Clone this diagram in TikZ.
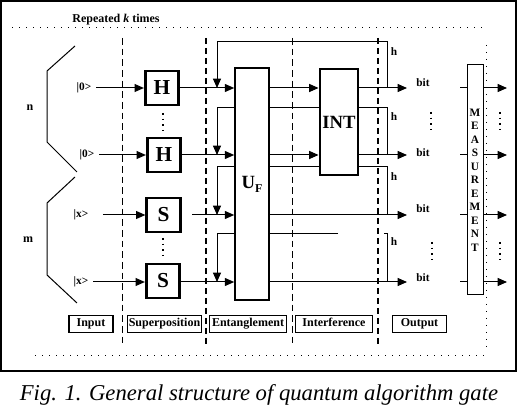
\documentclass[tikz,border=0pt]{standalone}
\usepackage{fontspec}
\setmainfont{Liberation Serif}
\usetikzlibrary{arrows.meta}
\begin{document}
\begin{tikzpicture}[x=0.75pt,y=-0.75pt,line width=0.75pt,
  arr/.style={-{Triangle[length=7pt,width=6pt]}},
  gate/.style={draw,fill=white,line width=2.2pt,minimum width=25pt,minimum height=25.5pt,inner sep=0pt,font=\fontsize{16}{16}\selectfont\bfseries},
  lbl/.style={inner sep=0.5pt,font=\fontsize{8.5}{9}\selectfont\bfseries},
  stage/.style={draw,line width=0.9pt,minimum height=13pt,text height=6.5pt,text depth=2pt,inner sep=0pt,font=\fontsize{9}{10}\selectfont\bfseries},
  thindash/.style={dash pattern=on 5pt off 3pt,line width=0.75pt},
  thickdash/.style={dash pattern=on 4.5pt off 3pt,line width=1.6pt},
  dotline/.style={dash pattern=on 0.75pt off 4.5pt,line width=0.75pt},
  vdots/.style={dash pattern=on 1.2pt off 3pt,line width=1.1pt},
]
\useasboundingbox (0,0) rectangle (518,416);
\draw[line width=1pt] (1,1) rectangle (516,371);

% repeated label and dotted guides
\node[font=\fontsize{9}{10}\selectfont\bfseries,inner sep=0pt] (rep) at (116,20) {Repeated \textit{k} times};
\draw[dotline] (12,28) -- (488,28);
\draw[dotline] (35,356) -- (485,356);
\draw[dotline] (486,45) -- (486,352);

% stage separators
\draw[thindash] (122,38) -- (122,347);
\draw[thickdash] (206,38) -- (206,347);
\draw[thindash] (292,38) -- (292,347);
\draw[thickdash] (378,38) -- (378,347);

% brackets
\draw (75,46) -- (47,71) -- (47,142) -- (77,172);
\draw (75,177) -- (47,203) -- (47,275) -- (77,303);
\node[lbl,font=\fontsize{9}{10}\selectfont\bfseries] (nlab) at (30,108) {n};
\node[lbl,font=\fontsize{9}{10}\selectfont\bfseries] (mlab) at (28,240) {m};

% feedback paths (behind the boxes)
\coordinate (fa1) at (387,88);  \coordinate (fa2) at (387,42);  \coordinate (fa3) at (217,42);  \coordinate (fa4) at (217,88);
\coordinate (fb1) at (387,155); \coordinate (fb2) at (387,108); \coordinate (fb3) at (217,108); \coordinate (fb4) at (217,155);
\coordinate (fc1) at (387,215); \coordinate (fc2) at (387,167); \coordinate (fc3) at (217,167); \coordinate (fc4) at (217,215);
\coordinate (fd0) at (338,234); \coordinate (fd3) at (217,234); \coordinate (fd4) at (217,282);
\coordinate (fe0) at (384,234); \coordinate (fe2) at (387,234); \coordinate (fe1) at (387,282);
\draw[arr] (fa1) -- (fa2) -- (fa3) -- (fa4);
\draw[arr] (fb1) -- (fb2) -- (fb3) -- (fb4);
\draw[arr] (fc1) -- (fc2) -- (fc3) -- (fc4);
\draw (fd0) -- (fd3);
\draw[arr] (fd3) -- (fd4);
\draw (fe0) -- (fe2) -- (fe1);

% gates
\node[gate] (H1) at (162,88) {H};
\node[gate] (H2) at (164,155) {H};
\node[gate] (S1) at (163.5,215) {S};
\node[gate] (S2) at (163,281) {S};
\draw[vdots] (163,113) -- (163,133);
\draw[vdots] (163,238) -- (163,256);

\node[draw,fill=white,line width=1.2pt,minimum width=25.5pt,minimum height=174pt,inner sep=0pt] (UF) at (252,184)
  {\fontsize{14}{14}\selectfont\bfseries U\raisebox{-0.45ex}{\fontsize{9}{9}\selectfont F}};
\node[draw,fill=white,line width=2.2pt,minimum width=28.5pt,minimum height=79.5pt,inner sep=0pt,font=\fontsize{14}{14}\selectfont\bfseries] (INT) at (339,122) {INT};
\node[draw,fill=white,line width=0.75pt,minimum width=12pt,minimum height=172.5pt,inner sep=0pt,align=center,font=\fontsize{8.5}{10.1}\selectfont\bfseries] (MS) at (475,180)
  {M\\E\\A\\S\\U\\R\\E\\M\\E\\N\\T};

% inputs
\node[lbl] (i1) at (84,88) {|0>};
\node[lbl] (i2) at (87,155) {|0>};
\node[lbl] (i3) at (81,215) {|x>};
\node[lbl] (i4) at (81,282) {|x>};
\draw[arr,shorten <=3pt] (i1.east) -- (H1.west);
\draw[arr,shorten <=3pt] (i2.east) -- (H2.west);
\draw[arr,shorten <=10pt] (i3.east) -- (S1.west |- i3);
\draw[arr,shorten <=3pt] (i4.east) -- (S2.west |- i4);

% into U_F
\draw[arr] (H1.east) -- (H1.east -| UF.west);
\draw[arr] (H2.east) -- (H2.east -| UF.west);
\draw[arr,shorten <=8pt] (S1.east) -- (S1.east -| UF.west);
\draw[arr] (S2.east |- i4) -- (UF.west |- i4);

% into INT and outputs
\coordinate (o1) at (407,88);
\coordinate (o2) at (407,155);
\coordinate (o3) at (407,215);
\coordinate (o4) at (407,282);
\draw[arr] (UF.east |- o1) -- (INT.west |- o1);
\draw[arr] (UF.east |- o2) -- (INT.west |- o2);
\draw[arr] (INT.east |- o1) -- (o1);
\draw[arr] (INT.east |- o2) -- (o2);
\draw[arr] (UF.east |- o3) -- (o3);
\draw[arr] (UF.east |- o4) -- (o4);

% labels bit / h
\node[lbl] (b1) at (423,83) {bit};
\node[lbl] (b2) at (423,153) {bit};
\node[lbl] (b3) at (423,209) {bit};
\node[lbl] (b4) at (423,278) {bit};
\node[lbl] (h1) at (394,52) {h};
\node[lbl] (h2) at (394,117) {h};
\node[lbl] (h3) at (394,177) {h};
\node[lbl] (h4) at (394,242) {h};
\draw[vdots] (431,112) -- (431,129);
\draw[vdots] (432,242) -- (432,262);

% measurement connections
\coordinate (m1) at (460,88);  \coordinate (n1) at (507,88);
\coordinate (m2) at (460,155); \coordinate (n2) at (507,155);
\coordinate (m3) at (460,215); \coordinate (n3) at (507,215);
\coordinate (m4) at (460,282); \coordinate (n4) at (507,282);
\draw (m1) -- (MS.west |- m1);
\draw (m2) -- (MS.west |- m2);
\draw (m3) -- (MS.west |- m3);
\draw (m4) -- (MS.west |- m4);
\draw[arr] (MS.east |- n1) -- (n1);
\draw[arr] (MS.east |- n2) -- (n2);
\draw[arr] (MS.east |- n3) -- (n3);
\draw[arr] (MS.east |- n4) -- (n4);
\draw[vdots] (500,112) -- (500,129);
\draw[vdots] (500,242) -- (500,262);

% stage labels
\node[stage,minimum width=33pt] (st1) at (91,324) {Input};
\node[stage,minimum width=56pt] (st2) at (164.5,324) {Superposition};
\node[stage,minimum width=58pt] (st3) at (248,324) {Entanglement};
\node[stage,minimum width=58pt] (st4) at (334,324) {Interference};
\node[stage,minimum width=41pt] (st5) at (419.5,324) {Output};

% caption
\node[inner sep=0pt,font=\fontsize{17}{17}\selectfont\itshape] (cap) at (259,395) {Fig. 1. General structure of quantum algorithm gate};
\end{tikzpicture}
\end{document}
